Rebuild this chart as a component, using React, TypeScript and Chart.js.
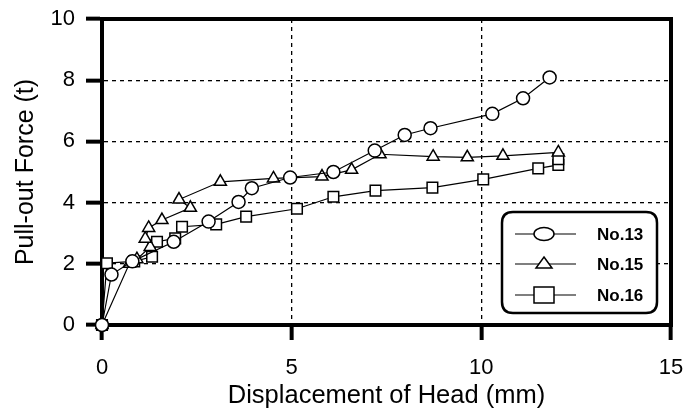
import React, { useEffect, useRef } from "react";
import { Chart, registerables } from "chart.js";

Chart.register(...registerables);

// ---- Data ----
const no13X = [0, 0.25, 0.8, 1.89, 2.81, 3.6, 3.95, 4.96, 6.1, 7.19, 7.98, 8.66, 10.29, 11.1, 11.8];
const no13Y = [0, 1.65, 2.08, 2.72, 3.38, 4.02, 4.47, 4.82, 5.0, 5.7, 6.21, 6.43, 6.9, 7.41, 8.09];

const no15X = [0, 0.72, 0.92, 1.27, 1.14, 1.23, 1.58, 2.33, 2.03, 3.12, 4.52, 5.8, 6.58, 7.33, 8.73, 9.63, 10.57, 12.03];
const no15Y = [0, 2.0, 2.15, 2.55, 2.82, 3.17, 3.43, 3.83, 4.1, 4.68, 4.79, 4.85, 5.07, 5.58, 5.5, 5.48, 5.53, 5.64];

const no16X = [0, 0.13, 0.85, 1.32, 1.45, 1.93, 2.11, 3.01, 3.8, 5.14, 6.1, 7.21, 8.71, 10.05, 11.5, 12.03, 12.03];
const no16Y = [0, 2.02, 2.08, 2.23, 2.72, 2.83, 3.21, 3.29, 3.54, 3.8, 4.19, 4.39, 4.49, 4.76, 5.12, 5.23, 5.42];

const seriesLabels = ["No.13", "No.15", "No.16"];
const xTicks = [0, 5, 10, 15];
const yTicks = [0, 2, 4, 6, 8, 10];

const xTitle = "Displacement of Head (mm)";
const yTitle = "Pull-out Force (t)";

const FONT = '"Liberation Sans", Arial, Helvetica, sans-serif';

function toPoints(xs: number[], ys: number[]) {
  return xs.map((x, i) => ({ x, y: ys[i] }));
}

export default function App() {
  const ref = useRef<HTMLCanvasElement>(null);

  useEffect(() => {
    document.body.style.margin = "0";
    const canvas = ref.current;
    if (!canvas) return;

    const framePlugin = {
      id: "frame",
      beforeDatasetsDraw(chart: any) {
        const { ctx, chartArea } = chart;
        ctx.save();
        ctx.strokeStyle = "#000";
        ctx.lineWidth = 4;
        ctx.beginPath();
        ctx.moveTo(chartArea.left - 2, chartArea.top);
        ctx.lineTo(chartArea.right + 2, chartArea.top);
        ctx.moveTo(chartArea.right, chartArea.top - 2);
        ctx.lineTo(chartArea.right, chartArea.bottom + 2);
        ctx.stroke();
        ctx.restore();
      },
    };

    const legendPlugin = {
      id: "boxLegend",
      afterDraw(chart: any) {
        const { ctx, chartArea } = chart;
        const x0 = chartArea.right - 169;
        const y0 = chartArea.top + 193;
        const w = 155;
        const h = 101;
        const r = 11;
        ctx.save();
        ctx.beginPath();
        ctx.moveTo(x0 + r, y0);
        ctx.lineTo(x0 + w - r, y0);
        ctx.quadraticCurveTo(x0 + w, y0, x0 + w, y0 + r);
        ctx.lineTo(x0 + w, y0 + h - r);
        ctx.quadraticCurveTo(x0 + w, y0 + h, x0 + w - r, y0 + h);
        ctx.lineTo(x0 + r, y0 + h);
        ctx.quadraticCurveTo(x0, y0 + h, x0, y0 + h - r);
        ctx.lineTo(x0, y0 + r);
        ctx.quadraticCurveTo(x0, y0, x0 + r, y0);
        ctx.closePath();
        ctx.fillStyle = "#fff";
        ctx.fill();
        ctx.lineWidth = 2.5;
        ctx.strokeStyle = "#000";
        ctx.stroke();

        const rows = [y0 + 22, y0 + 52, y0 + 83];
        const lineX1 = x0 + 13;
        const lineX2 = x0 + 74;
        const mx = x0 + 42;
        seriesLabels.forEach((label, i) => {
          const y = rows[i];
          ctx.lineWidth = 1.2;
          ctx.strokeStyle = "#000";
          ctx.beginPath();
          ctx.moveTo(lineX1, y);
          ctx.lineTo(lineX2, y);
          ctx.stroke();
          ctx.fillStyle = "#fff";
          ctx.lineWidth = 1.5;
          ctx.beginPath();
          if (i === 0) {
            ctx.ellipse(mx, y, 10, 6.5, 0, 0, Math.PI * 2);
          } else if (i === 1) {
            ctx.moveTo(mx, y - 7);
            ctx.lineTo(mx + 8, y + 4);
            ctx.lineTo(mx - 8, y + 4);
            ctx.closePath();
          } else {
            ctx.rect(mx - 10, y - 8, 20, 16);
          }
          ctx.fill();
          ctx.stroke();
          ctx.fillStyle = "#000";
          ctx.font = `bold 17px ${FONT}`;
          ctx.textAlign = "left";
          ctx.textBaseline = "middle";
          ctx.fillText(label, x0 + 95, y + 1);
        });
        ctx.restore();
      },
    };

    const common = {
      showLine: true,
      borderColor: "#000",
      borderWidth: 1.2,
      pointBackgroundColor: "#fff",
      pointBorderColor: "#000",
      pointBorderWidth: 1.5,
      clip: false as any,
    };

    const chart = new Chart(canvas, {
      type: "scatter",
      data: {
        datasets: [
          { ...common, label: seriesLabels[0], data: toPoints(no13X, no13Y), pointStyle: "circle", pointRadius: 6.5 },
          { ...common, label: seriesLabels[1], data: toPoints(no15X, no15Y), pointStyle: "triangle", pointRadius: 7 },
          { ...common, label: seriesLabels[2], data: toPoints(no16X, no16Y), pointStyle: "rect", pointRadius: 7.5 },
        ],
      },
      options: {
        animation: false,
        responsive: false,
        layout: { padding: { top: 19, right: 15, left: 0, bottom: 0 } },
        plugins: {
          legend: { display: false },
          tooltip: { enabled: false },
        },
        scales: {
          x: {
            type: "linear",
            min: 0,
            max: 15,
            afterBuildTicks: (s: any) => {
              s.ticks = xTicks.map((v) => ({ value: v }));
            },
            afterFit: (s: any) => {
              s.height = 87;
              s.paddingLeft = 0;
              s.paddingRight = 0;
            },
            ticks: {
              color: "#000",
              padding: 15,
              maxRotation: 0,
              font: { family: FONT, size: 22 },
            },
            grid: {
              color: (c: any) =>
                c.tick && (c.tick.value === 0 || c.tick.value === 15) ? "rgba(0,0,0,0)" : "#000",
              lineWidth: 1.3,
              borderDash: [4, 4],
              tickLength: 15,
              tickWidth: 4,
              tickColor: "#000",
              tickBorderDash: [],
            } as any,
            border: { display: true, color: "#000", width: 4, dash: [4, 4] },
            title: {
              display: true,
              text: xTitle,
              color: "#000",
              font: { family: FONT, size: 25.5 },
              padding: { top: 0, bottom: 1 },
            },
          },
          y: {
            type: "linear",
            min: 0,
            max: 10,
            afterBuildTicks: (s: any) => {
              s.ticks = yTicks.map((v) => ({ value: v }));
            },
            afterFit: (s: any) => {
              s.width = 102;
              s.paddingTop = 0;
              s.paddingBottom = 0;
            },
            ticks: {
              color: "#000",
              padding: 11,
              font: { family: FONT, size: 22 },
            },
            grid: {
              color: (c: any) =>
                c.tick && (c.tick.value === 0 || c.tick.value === 10) ? "rgba(0,0,0,0)" : "#000",
              lineWidth: 1.3,
              borderDash: [4, 4],
              tickLength: 16,
              tickWidth: 4,
              tickColor: "#000",
              tickBorderDash: [],
            } as any,
            border: { display: true, color: "#000", width: 4, dash: [4, 4] },
            title: {
              display: true,
              text: yTitle,
              color: "#000",
              font: { family: FONT, size: 25 },
              padding: { top: 11, bottom: 0 },
            },
          },
        },
      },
      plugins: [framePlugin, legendPlugin],
    });

    return () => chart.destroy();
  }, []);

  return (
    <div style={{ width: 686, height: 412 }}>
      <canvas ref={ref} width={686} height={412} style={{ display: "block", width: 686, height: 412 }} />
    </div>
  );
}
